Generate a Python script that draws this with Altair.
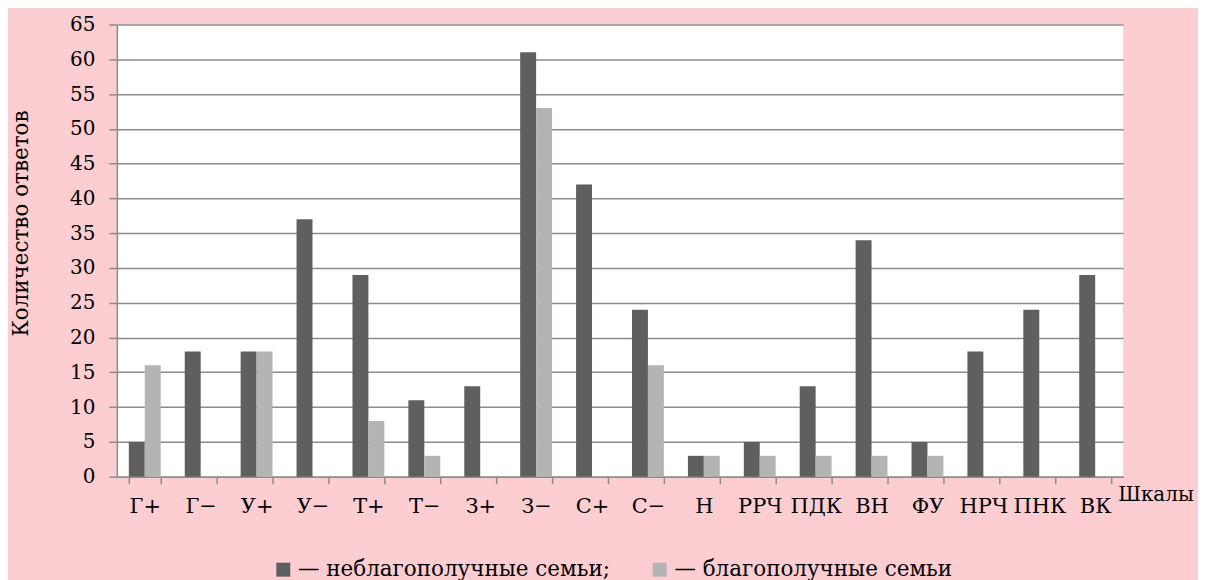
import altair as alt
import pandas as pd

categories = ["Г+", "Г−", "У+", "У−", "Т+", "Т−", "З+", "З−", "С+", "С−",
              "Н", "РРЧ", "ПДК", "ВН", "ФУ", "НРЧ", "ПНК", "ВК"]
series_names = ["неблагополучные семьи", "благополучные семьи"]
unfavorable = [5, 18, 18, 37, 29, 11, 13, 61, 42, 24, 3, 5, 13, 34, 5, 18, 24, 29]
favorable = [16, 0, 18, 0, 8, 3, 0, 53, 0, 16, 3, 3, 3, 3, 3, 0, 0, 0]
y_ticks = list(range(0, 70, 5))
y_title = "Количество ответов"
x_title = "Шкалы"

rows = []
for c, a, b in zip(categories, unfavorable, favorable):
    rows.append({"cat": c, "series": series_names[0], "value": a})
    rows.append({"cat": c, "series": series_names[1], "value": b})
df = pd.DataFrame(rows)

FONT = "DejaVu Serif"
GRID = "#8c8c8c"

bars = alt.Chart(df).mark_bar().encode(
    x=alt.X("cat:N", sort=categories, title=None,
            scale=alt.Scale(paddingInner=0.43, paddingOuter=0.215),
            axis=alt.Axis(labelAngle=0, tickBand="extent", tickSize=7,
                          tickColor=GRID, domainColor=GRID, domainWidth=1.5,
                          tickWidth=1.5, labelFont=FONT, labelFontSize=21,
                          labelColor="black", labelPadding=12, grid=False)),
    xOffset=alt.XOffset("series:N", sort=series_names,
                        scale=alt.Scale(paddingInner=0, paddingOuter=0)),
    y=alt.Y("value:Q", title=y_title,
            scale=alt.Scale(domain=[0, 65], nice=False, zero=True),
            axis=alt.Axis(values=y_ticks, tickSize=8, tickColor=GRID, tickWidth=1.5,
                          domainColor=GRID, domainWidth=1.5, gridColor=GRID,
                          gridWidth=1.5, labelFont=FONT, labelFontSize=20,
                          labelColor="black", labelPadding=14,
                          titleFont=FONT, titleFontSize=21.5, titleFontWeight="normal",
                          titleColor="black", titleAngle=270, titleX=-95, titleY=199,
                          titleAlign="center", titleBaseline="middle")),
    color=alt.Color("series:N", sort=series_names,
                    scale=alt.Scale(domain=series_names, range=["#5f5f5f", "#b4b4b4"]),
                    legend=alt.Legend(
                        title=None, orient="none", direction="horizontal",
                        legendX=156, legendY=535, symbolType="square",
                        symbolSize=196, symbolStrokeWidth=0, labelFont=FONT,
                        labelFontSize=21.5, labelColor="black", columnPadding=38,
                        labelOffset=4, labelLimit=0,
                        labelExpr="datum.label == 'неблагополучные семьи' ? '— неблагополучные семьи;' : '— благополучные семьи'")),
)

xlabel = alt.Chart(pd.DataFrame({"t": [x_title]})).mark_text(
    font=FONT, fontSize=20, color="black", align="left", baseline="alphabetic"
).encode(x=alt.value(1003), y=alt.value(477), text="t:N")

chart = alt.layer(bars, xlabel).properties(
    width=1008, height=453,
    background="#fccdd1",
    padding={"left": 109, "top": 16, "right": 75, "bottom": 103},
    autosize=alt.AutoSizeParams(type="none"),
).configure_view(fill="white", stroke=None)

chart.save("out.html", embed_options={"renderer": "svg", "actions": False})
